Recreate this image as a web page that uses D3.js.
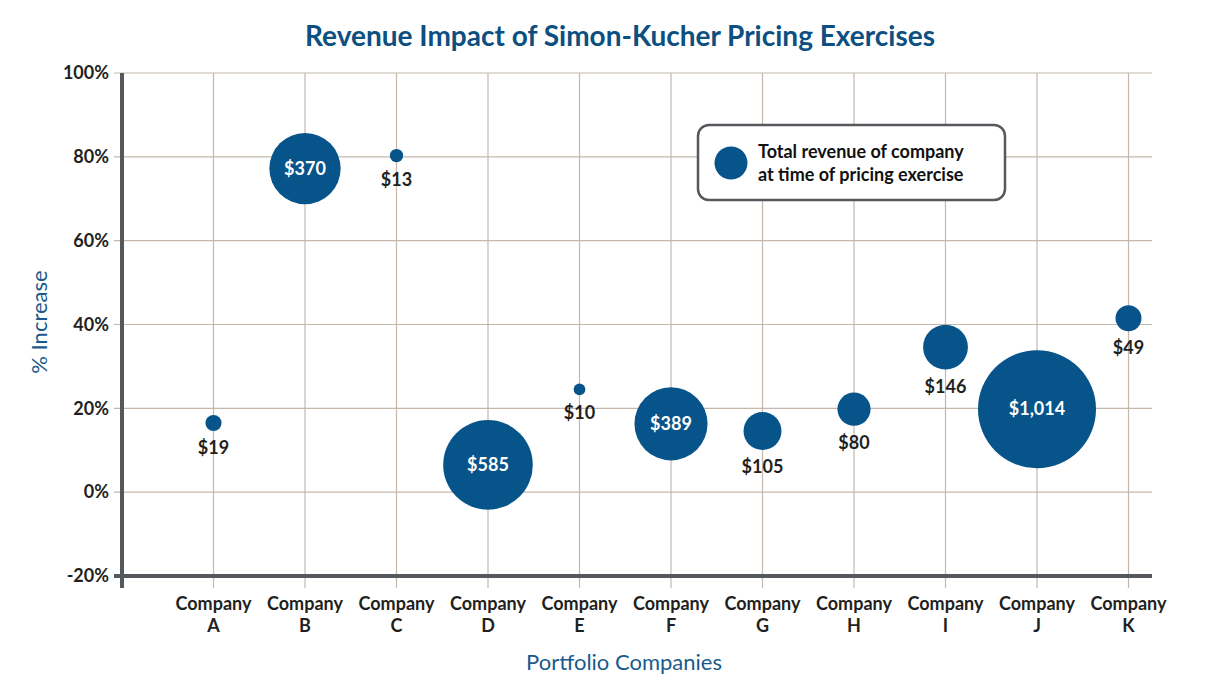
<!DOCTYPE html>
<html>
<head>
<meta charset="utf-8">
<script src="https://cdn.jsdelivr.net/npm/d3@7"></script>
<style>
  body { margin: 0; background: #fff; }
  svg { display: block; font-family: "Lato", "Open Sans", sans-serif; }
</style>
</head>
<body>
<div id="chart"></div>
<script>
// chart data
const companies = ["A", "B", "C", "D", "E", "F", "G", "H", "I", "J", "K"];
const pctIncrease = [16.5, 77.2, 80.3, 6.5, 24.5, 16.3, 14.6, 19.8, 34.6, 19.8, 41.5];
const revenue = [19, 370, 13, 585, 10, 389, 105, 80, 146, 1014, 49];
const yTicks = [-20, 0, 20, 40, 60, 80, 100];

// values big enough to get their label inside the bubble
const insideLabelMin = 300;

const blue = "#07548a";
const gridColor = "#c4b8ad";
const axisColor = "#55585c";

const W = 1205, H = 687;
const plot = { left: 122, right: 1152, top: 73, bottom: 576 };

const svg = d3.select("#chart")
  .append("svg")
  .attr("width", W)
  .attr("height", H);

// scales
const step = 91.5;
const x = d3.scalePoint()
  .domain(companies)
  .range([plot.left + step, plot.left + step * companies.length]);

const y = d3.scaleLinear()
  .domain([-20, 100])
  .range([plot.bottom, plot.top]);

const r = d3.scaleSqrt()
  .domain([0, 1014])
  .range([0, 59]);

// horizontal grid lines
svg.append("g")
  .selectAll("line")
  .data(yTicks.filter(d => d !== -20))
  .enter()
  .append("line")
  .attr("x1", plot.left - 8)
  .attr("x2", plot.right)
  .attr("y1", d => y(d))
  .attr("y2", d => y(d))
  .attr("stroke", gridColor)
  .attr("stroke-width", 1.2);

// vertical grid lines
svg.append("g")
  .selectAll("line")
  .data(companies)
  .enter()
  .append("line")
  .attr("x1", d => x(d))
  .attr("x2", d => x(d))
  .attr("y1", plot.top)
  .attr("y2", plot.bottom + 12)
  .attr("stroke", gridColor)
  .attr("stroke-width", 1.2);

// y tick labels
svg.append("g")
  .selectAll("text")
  .data(yTicks)
  .enter()
  .append("text")
  .attr("x", plot.left - 13)
  .attr("y", d => y(d))
  .attr("dy", "0.35em")
  .attr("text-anchor", "end")
  .attr("font-size", "18px")
  .attr("font-weight", "bold")
  .attr("fill", "#231f20")
  .text(d => d + "%");

// axes lines
svg.append("line")
  .attr("x1", plot.left - 8)
  .attr("x2", plot.right)
  .attr("y1", y(-20))
  .attr("y2", y(-20))
  .attr("stroke", axisColor)
  .attr("stroke-width", 4);

svg.append("line")
  .attr("x1", plot.left)
  .attr("x2", plot.left)
  .attr("y1", plot.top)
  .attr("y2", plot.bottom + 12)
  .attr("stroke", axisColor)
  .attr("stroke-width", 4);

// x tick labels, two lines each
const xLabels = svg.append("g")
  .selectAll("text")
  .data(companies)
  .enter()
  .append("text")
  .attr("text-anchor", "middle")
  .attr("font-size", "18px")
  .attr("font-weight", "bold")
  .attr("fill", "#231f20");

xLabels.append("tspan")
  .attr("x", d => x(d))
  .attr("y", 610)
  .text("Company");

xLabels.append("tspan")
  .attr("x", d => x(d))
  .attr("y", 632)
  .text(d => d);

// bubbles
const points = companies.map((c, i) => ({ name: c, pct: pctIncrease[i], rev: revenue[i] }));

svg.append("g")
  .selectAll("circle")
  .data(points)
  .enter()
  .append("circle")
  .attr("cx", d => x(d.name))
  .attr("cy", d => y(d.pct))
  .attr("r", d => r(d.rev))
  .attr("fill", blue);

// bubble labels
svg.append("g")
  .selectAll("text")
  .data(points)
  .enter()
  .append("text")
  .attr("x", d => x(d.name))
  .attr("y", d => d.rev >= insideLabelMin ? y(d.pct) : y(d.pct) + r(d.rev) + 17)
  .attr("dy", "0.35em")
  .attr("text-anchor", "middle")
  .attr("font-size", "18px")
  .attr("font-weight", "bold")
  .attr("fill", d => d.rev >= insideLabelMin ? "#fff" : "#231f20")
  .text(d => "$" + d3.format(",")(d.rev));

// legend
const legend = svg.append("g").attr("transform", "translate(698,125)");

legend.append("rect")
  .attr("width", 307)
  .attr("height", 75)
  .attr("rx", 11)
  .attr("fill", "#fff")
  .attr("stroke", axisColor)
  .attr("stroke-width", 2.5);

legend.append("circle")
  .attr("cx", 33)
  .attr("cy", 38)
  .attr("r", 16.5)
  .attr("fill", blue);

const legendText = legend.append("text")
  .attr("font-size", "18px")
  .attr("font-weight", "bold")
  .attr("fill", "#111");

legendText.append("tspan").attr("x", 60).attr("y", 33).text("Total revenue of company");
legendText.append("tspan").attr("x", 60).attr("y", 56).text("at time of pricing exercise");

// titles
svg.append("text")
  .attr("x", 620)
  .attr("y", 46)
  .attr("text-anchor", "middle")
  .attr("font-size", "28px")
  .attr("font-weight", "bold")
  .attr("fill", "#0c4f80")
  .text("Revenue Impact of Simon-Kucher Pricing Exercises");

svg.append("text")
  .attr("x", 624)
  .attr("y", 670)
  .attr("text-anchor", "middle")
  .attr("font-size", "22px")
  .attr("fill", "#1a5a8c")
  .text("Portfolio Companies");

svg.append("text")
  .attr("transform", "rotate(-90)")
  .attr("x", -322)
  .attr("y", 47)
  .attr("text-anchor", "middle")
  .attr("font-size", "22px")
  .attr("fill", "#1a5a8c")
  .text("% Increase");
</script>
</body>
</html>
